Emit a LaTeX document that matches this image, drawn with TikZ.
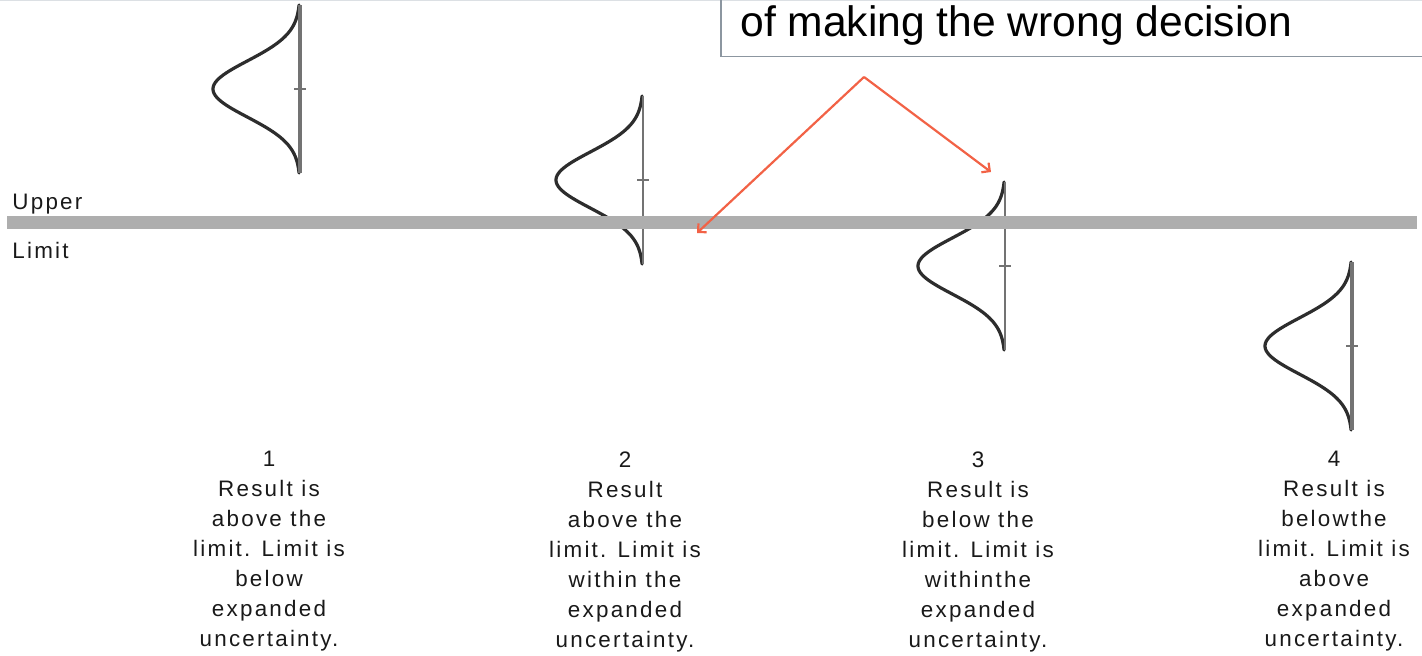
\documentclass[tikz,border=0pt]{standalone}
\usepackage{fontspec}
\setmainfont{Liberation Sans}
\newfontfamily\labfont[LetterSpace=10]{Liberation Sans}
\usetikzlibrary{arrows.meta}
\definecolor{limitgray}{RGB}{174,174,174}
\definecolor{axisgray}{RGB}{115,115,115}
\definecolor{curvedark}{RGB}{45,45,45}
\definecolor{arrowred}{RGB}{242,98,70}
\definecolor{boxedge}{RGB}{140,150,160}
\definecolor{topedge}{RGB}{220,224,228}
% one drawing unit is 0.5pt
\tikzset{
  axiswidth/.initial=1.5pt,
  lab/.style={font=\labfont\fontsize{11.2}{15}\selectfont, inner sep=0pt, align=center, text=black!90},
  sidelab/.style={font=\labfont\fontsize{11.2}{15}\selectfont, inner sep=0pt, anchor=west, text=black!90},
  callout/.style={font=\fontsize{21.3}{25}\selectfont, inner sep=0pt, anchor=base west},
  pointer/.style={draw=arrowred, line width=1.1pt, -{Straight Barb[length=3pt,width=6pt,line width=1.1pt]}},
  dist/.pic={
    \draw[curvedark, line width=1.6pt, line cap=round]
      plot[domain=-3:3, samples=90, smooth] ({-87*exp(-\x*\x/2)}, {28*\x});
    \draw[axisgray, line width=\pgfkeysvalueof{/tikz/axiswidth}] (0,-84) -- (0,84);
    \draw[axisgray, line width=1pt] (-6,0) -- (6,0);
  },
}
\begin{document}
\begin{tikzpicture}[x=0.5pt, y=-0.5pt]
  \useasboundingbox (0,0) rectangle (1422,655);

  % frame of the callout box at the top
  \draw[topedge, line width=0.75pt] (0,0.5) -- (1422,0.5);
  \draw[boxedge, line width=0.75pt] (721,-5) -- (721,56.5) -- (1430,56.5);
  \node[callout] (callout) at (740,36) {of making the wrong decision};

  % measurement distributions with their uncertainty bars
  \pic[axiswidth=1.6pt] at (300,89) {dist};
  \pic[axiswidth=1pt] at (643,180) {dist};
  \pic[axiswidth=1pt] at (1005,266) {dist};
  \pic[axiswidth=1.6pt] at (1352,346) {dist};

  % upper limit line
  \draw[limitgray, line width=6.5pt] (7,222.5) -- (1417,222.5);
  \node[sidelab] (upper) at (12,204) {Upper};
  \node[sidelab] (limit) at (12,250) {Limit};

  % arrows from the callout
  \coordinate (apex) at (864,77);
  \coordinate (hitleft) at (697,233);
  \coordinate (hitright) at (991,172);
  \draw[pointer] (apex) -- (hitleft);
  \draw[pointer] (apex) -- (hitright);

  % case descriptions
  \node[lab, anchor=north] (case1) at (269,451) {1\\Result is\\above the\\limit. Limit is\\below\\expanded\\uncertainty.};
  \node[lab, anchor=north] (case2) at (625,451) {2\\Result\\above the\\limit. Limit is\\within the\\expanded\\uncertainty.};
  \node[lab, anchor=north] (case3) at (978,451) {3\\Result is\\below the\\limit. Limit is\\withinthe\\expanded\\uncertainty.};
  \node[lab, anchor=north] (case4) at (1334,451) {4\\Result is\\belowthe\\limit. Limit is\\above\\expanded\\uncertainty.};
\end{tikzpicture}
\end{document}
